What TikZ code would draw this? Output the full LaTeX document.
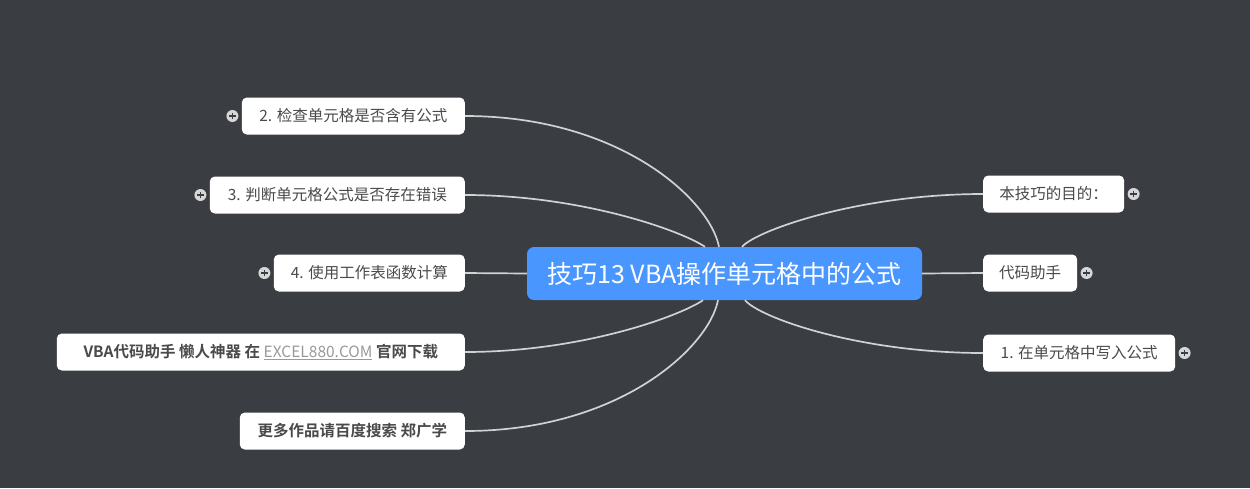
\documentclass[tikz,border=0pt]{standalone}
\usepackage{fontspec}
\setmainfont{Noto Sans CJK SC}[BoldFont={Noto Sans CJK SC Bold}]
\usetikzlibrary{positioning}
\definecolor{bgdark}{HTML}{3A3D42}
\definecolor{topicblue}{HTML}{4A96FF}
\definecolor{linegray}{HTML}{D2D2D2}
\definecolor{textgray}{HTML}{4A4A4A}
\definecolor{linkgray}{HTML}{9A9A9A}
\definecolor{iconfill}{HTML}{D6D6D6}

\begin{document}
\begin{tikzpicture}[
  x=1pt, y=-1pt,
  central/.style={rectangle, rounded corners=7pt, fill=topicblue, text=white, font=\fontsize{25}{28}\selectfont, minimum width=395pt, minimum height=53pt, inner sep=0pt},
  topic/.style={rectangle, rounded corners=5pt, fill=white, text=textgray, font=\fontsize{15.5}{18}\selectfont, minimum height=37pt, inner xsep=12pt, inner ysep=0pt},
  boldtopic/.style={topic, font=\fontsize{15.5}{18}\selectfont\bfseries},
  expander/.style={circle, fill=iconfill, minimum size=12pt, inner sep=0pt},
  link/.style={draw=linegray, line width=1.7pt},
  cross/.style={draw=bgdark, line width=1.5pt}
]
\fill[bgdark] (0,0) rectangle (1250,488);

\node[central] (main) at (724.5,273.5) {技巧13 VBA操作单元格中的公式};

% left side
\node[topic, anchor=east, minimum width=223pt] (q2) at (465,116) {2. 检查单元格是否含有公式};
\node[topic, anchor=east, minimum width=255pt] (q3) at (465,195) {3. 判断单元格公式是否存在错误};
\node[topic, anchor=east, minimum width=191pt] (q4) at (465,273) {4. 使用工作表函数计算};
\node[boldtopic, anchor=east, minimum width=408pt] (vba) at (465,352) {VBA代码助手 懒人神器 在 {\mdseries\color{linkgray}\underline{EXCEL880.COM}} 官网下载};
\node[boldtopic, anchor=east, minimum width=225pt] (more) at (465,431) {更多作品请百度搜索 郑广学};

% right side
\node[topic, anchor=west, minimum width=141pt] (aim) at (983,194) {本技巧的目的：};
\node[topic, anchor=west, minimum width=94pt] (helper) at (983,273) {代码助手};
\node[topic, anchor=west, minimum width=192pt] (q1) at (983,353) {1. 在单元格中写入公式};

% collapsed markers
\node[expander, left=3pt of q2] (e2) {};
\node[expander, left=3pt of q3] (e3) {};
\node[expander, left=3pt of q4] (e4) {};
\node[expander, right=3pt of aim] (ea) {};
\node[expander, right=3pt of helper] (eh) {};
\node[expander, right=3pt of q1] (e1) {};
\foreach \e in {e2,e3,e4,ea,eh,e1} {
  \draw[cross] ([xshift=-3.2pt]\e.center) -- ([xshift=3.2pt]\e.center);
  \draw[cross] ([yshift=-3.2pt]\e.center) -- ([yshift=3.2pt]\e.center);
}

% branches
\draw[link] (q2.east) .. controls (620,116) and (710,200) .. ([xshift=-5.5pt]main.north);
\draw[link] (q3.east) .. controls (580,195) and (680,230) .. ([xshift=-19.5pt]main.north);
\draw[link] (q4.east) -- (main.west);
\draw[link] (vba.east) .. controls (580,352) and (678,317) .. ([xshift=-21.5pt]main.south);
\draw[link] (more.east) .. controls (620,431) and (709,347) .. ([xshift=-6.5pt]main.south);
\draw[link] (aim.west) .. controls (860,194) and (757,230) .. ([xshift=17.5pt]main.north);
\draw[link] (helper.west) -- (main.east);
\draw[link] (q1.west) .. controls (860,353) and (760,318) .. ([xshift=20.5pt]main.south);
\end{tikzpicture}
\end{document}
